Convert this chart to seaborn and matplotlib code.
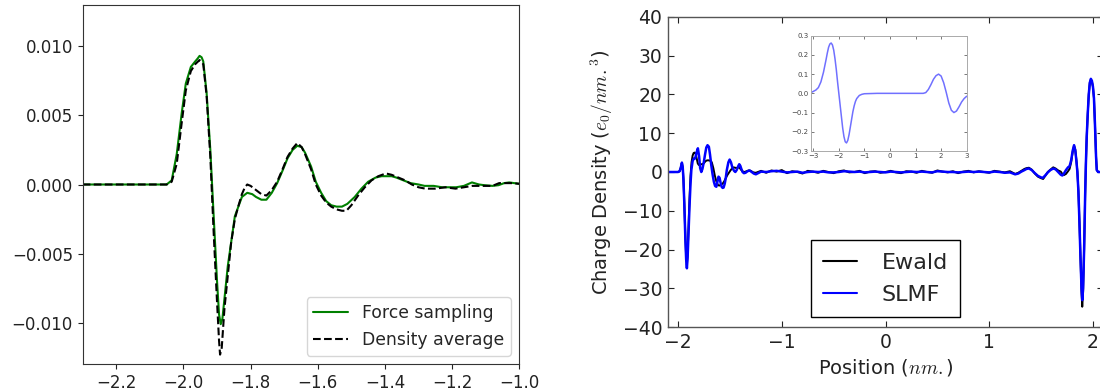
import numpy as np
import matplotlib
matplotlib.use("Agg")
import matplotlib.pyplot as plt
import seaborn as sns

# ---------------- Left panel data ----------------
fs_x = [-2.30, -2.20, -2.10, -2.05, -2.035, -2.02, -2.005, -1.993, -1.978, -1.965,
        -1.958, -1.952, -1.946, -1.941, -1.931, -1.92, -1.91, -1.90, -1.894, -1.889,
        -1.884, -1.868, -1.847, -1.826, -1.810, -1.795, -1.784, -1.768, -1.753, -1.737,
        -1.721, -1.705, -1.69, -1.675, -1.661, -1.648, -1.638, -1.62, -1.606, -1.59,
        -1.575, -1.56, -1.544, -1.528, -1.512, -1.49, -1.47, -1.45, -1.428, -1.41,
        -1.397, -1.38, -1.366, -1.345, -1.324, -1.30, -1.282, -1.255, -1.23, -1.21,
        -1.188, -1.165, -1.141, -1.12, -1.104, -1.08, -1.062, -1.045, -1.03, -1.015, -1.0]
fs_y = [0.0, 0.0, 0.0, 0.0, 0.0003, 0.0022, 0.0052, 0.0073, 0.0085, 0.0089,
        0.0091, 0.0093, 0.0092, 0.0089, 0.0066, 0.0025, -0.0023, -0.0070, -0.0094, -0.0101,
        -0.0097, -0.0059, -0.0023, -0.0009, -0.0006, -0.0007, -0.0009, -0.0011, -0.0011, -0.0006,
        0.0001, 0.0010, 0.0019, 0.0025, 0.0028, 0.0027, 0.0023, 0.0013, 0.0002, -0.0006,
        -0.0012, -0.0015, -0.0016, -0.0016, -0.0014, -0.0009, -0.0003, 0.0002, 0.0005, 0.0006,
        0.0006, 0.0006, 0.0005, 0.0003, 0.0001, 0.0000, -0.0001, -0.0001, -0.0002, -0.0002,
        -0.0002, -0.0001, 0.00015, 0.0000, -0.00005, -0.0001, -0.00005, 0.0001, 0.00015, 0.0001, 0.00005]

da_x = [-2.30, -2.20, -2.10, -2.05, -2.035, -2.02, -2.005, -1.993, -1.978, -1.965,
        -1.952, -1.941, -1.931, -1.92, -1.91, -1.90, -1.894, -1.891, -1.886, -1.878,
        -1.868, -1.858, -1.847, -1.837, -1.826, -1.817, -1.810, -1.80, -1.784, -1.768,
        -1.753, -1.737, -1.721, -1.705, -1.69, -1.675, -1.661, -1.648, -1.638, -1.62,
        -1.606, -1.59, -1.575, -1.56, -1.544, -1.528, -1.515, -1.50, -1.48, -1.46,
        -1.44, -1.42, -1.397, -1.38, -1.36, -1.34, -1.32, -1.30, -1.28, -1.25,
        -1.22, -1.19, -1.165, -1.14, -1.11, -1.08, -1.06, -1.04, -1.02, -1.0]
da_y = [0.0, 0.0, 0.0, 0.0, 0.0002, 0.0015, 0.0045, 0.0068, 0.0082, 0.0087,
        0.0090, 0.0087, 0.0064, 0.0020, -0.0035, -0.0085, -0.0113, -0.0123, -0.0118, -0.0090,
        -0.0066, -0.0042, -0.0025, -0.0016, -0.0007, -0.0002, 0.0000, -0.0001, -0.0004, -0.0007,
        -0.0008, -0.0004, 0.0002, 0.0011, 0.0020, 0.0026, 0.0030, 0.0027, 0.0022, 0.0011,
        0.0000, -0.0008, -0.0013, -0.0016, -0.0018, -0.0019, -0.0019, -0.0015, -0.0008, -0.0002,
        0.0003, 0.0006, 0.0008, 0.0007, 0.0005, 0.0003, 0.0000, -0.0002, -0.0003, -0.0003,
        -0.0002, -0.0003, -0.0002, -0.0001, -0.0001, -0.0001, 0.0001, 0.0001, 0.0001, 0.00005]

left_xticks = [-2.2, -2.0, -1.8, -1.6, -1.4, -1.2, -1.0]
left_yticks = [-0.010, -0.005, 0.000, 0.005, 0.010]

# ---------------- Right panel data ----------------
mid_x = [round(v, 2) for v in np.arange(-1.2, 1.2001, 0.05)]
ewald_mid = [0.3, -0.2, 0.4, 0.1, 0.5, -0.3, 0.2, 0.0, -0.4, 0.3,
             0.1, -0.2, 0.3, 0.0, -0.3, 0.2, 0.4, -0.1, 0.0, 0.3,
             -0.3, 0.1, 0.2, -0.2, 0.0, 0.3, -0.1, -0.3, 0.2, 0.1,
             -0.2, 0.3, 0.0, -0.2, 0.4, 0.1, -0.1, 0.2, -0.3, 0.1,
             0.3, -0.1, 0.2, 0.0, -0.2, 0.3, 0.1, -0.1, 0.2]
slmf_mid = [0.1, 0.0, 0.2, 0.3, 0.1, -0.1, 0.0, 0.1, -0.2, 0.0,
            0.1, 0.0, 0.1, -0.1, -0.1, 0.0, 0.2, 0.1, 0.0, 0.1,
            -0.1, 0.0, 0.1, 0.0, -0.1, 0.1, 0.0, -0.1, 0.0, 0.1,
            0.0, 0.1, 0.0, -0.1, 0.2, 0.1, 0.0, 0.0, -0.1, 0.0,
            0.1, 0.0, 0.1, 0.0, -0.1, 0.1, 0.0, -0.2, -0.1]

ewald_left_x = [-2.11, -2.0, -1.985, -1.975, -1.963, -1.955, -1.948, -1.94, -1.93, -1.922,
                -1.915, -1.908, -1.9, -1.89, -1.88, -1.87, -1.86, -1.85, -1.84, -1.831,
                -1.82, -1.81, -1.8, -1.79, -1.78, -1.765, -1.75, -1.735, -1.72, -1.705,
                -1.69, -1.675, -1.66, -1.645, -1.63, -1.615, -1.6, -1.585, -1.57, -1.555,
                -1.54, -1.525, -1.51, -1.495, -1.48, -1.465, -1.45, -1.435, -1.42, -1.405,
                -1.39, -1.375, -1.36, -1.34, -1.32, -1.3, -1.275, -1.25]
ewald_left_y = [0, 0, 0.2, 1.0, 2.4, 1.2, -2, -8, -16.5, -22,
                -24, -21, -15, -7, -1, 2.5, 4.2, 4.9, 5.0, 4.8,
                3.5, 2.2, 1.8, 1.9, 2.0, 2.0, 2.3, 2.8, 3.0, 3.0,
                2.9, 2.5, 1.0, -1.0, -2.5, -3.4, -3.5, -3.2, -3.0, -2.4,
                -1.6, -0.8, -0.2, 0.4, 0.9, 1.2, 1.1, 1.0, 1.2, 1.0,
                0.5, 0.1, 0.0, 0.2, 0.4, 0.3, -0.1, -0.2]
ewald_right_x = [1.25, 1.28, 1.31, 1.34, 1.36, 1.383, 1.41, 1.44, 1.47, 1.5,
                 1.52, 1.54, 1.565, 1.59, 1.617, 1.64, 1.665, 1.69, 1.705, 1.72,
                 1.74, 1.76, 1.775, 1.79, 1.805, 1.818, 1.83, 1.84, 1.85, 1.86,
                 1.87, 1.88, 1.89, 1.897, 1.905, 1.915, 1.925, 1.932, 1.94, 1.95,
                 1.96, 1.97, 1.98, 1.99, 2.0, 2.01, 2.02, 2.03, 2.037, 2.05, 2.11]
ewald_right_y = [-0.5, -0.2, 0.3, 0.8, 1.0, 1.1, 0.6, -0.4, -1.2, -1.6,
                 -1.8, -1.0, 0.0, 0.6, 1.2, 0.9, 0.4, 0.1, -0.5, -0.8,
                 -0.5, 0.2, 0.8, 2.5, 5.2, 6.8, 5.8, 3.2, 0.2, -5,
                 -13, -22, -31, -34.7, -31, -20, -6, 2, 9, 15,
                 20, 23, 23.7, 23.3, 22, 19, 12, 4, 0.5, 0, 0]

slmf_left_x = [-2.11, -2.0, -1.985, -1.975, -1.963, -1.955, -1.948, -1.94, -1.93, -1.922,
               -1.915, -1.908, -1.9, -1.89, -1.88, -1.872, -1.86, -1.848, -1.835, -1.822,
               -1.809, -1.797, -1.787, -1.776, -1.765, -1.752, -1.74, -1.728, -1.716, -1.703,
               -1.692, -1.68, -1.668, -1.655, -1.643, -1.631, -1.62, -1.61, -1.6, -1.59,
               -1.58, -1.57, -1.561, -1.55, -1.54, -1.53, -1.515, -1.503, -1.49, -1.475,
               -1.46, -1.448, -1.435, -1.42, -1.41, -1.4, -1.39, -1.378, -1.365, -1.35,
               -1.33, -1.31, -1.29, -1.27, -1.25]
slmf_left_y = [0, 0, 0.2, 1.0, 2.4, 1.2, -2, -8, -17, -22.5,
               -24.8, -22, -16, -9, -3, 0.5, 2.8, 3.5, 3.5, 5,
               6.1, 4, 1, 0, 0.8, 2.5, 4.5, 6.3, 6.9, 6.5,
               4.5, 1.8, -0.5, -2.5, -3.6, -3.8, -2.5, -1.2, -1.5, -2.8,
               -3.8, -4.1, -4.0, -3, -1.5, 0.5, 2.5, 3.2, 2.5, 1.0,
               0.3, 0.0, 0.5, 1.5, 2.0, 1.6, 0.8, 0.0, -0.3, -0.2,
               0.2, 0.4, 0.0, -0.4, -0.6]
slmf_right_x = [1.25, 1.28, 1.31, 1.34, 1.36, 1.383, 1.41, 1.44, 1.47, 1.5,
                1.517, 1.54, 1.565, 1.59, 1.617, 1.64, 1.665, 1.69, 1.705, 1.72,
                1.74, 1.76, 1.775, 1.79, 1.805, 1.818, 1.83, 1.84, 1.85, 1.86,
                1.87, 1.88, 1.89, 1.897, 1.905, 1.915, 1.925, 1.932, 1.94, 1.95,
                1.96, 1.97, 1.98, 1.99, 2.0, 2.01, 2.02, 2.03, 2.037, 2.05, 2.11]
slmf_right_y = [-0.6, -0.4, 0.1, 0.5, 0.8, 0.9, 0.5, -0.3, -1.0, -1.4,
                -1.5, -0.9, -0.1, 0.5, 0.9, 0.7, 0.0, -0.7, -0.9, -0.4,
                0.5, 1.2, 1.5, 3.0, 5.5, 6.9, 5.5, 3.0, 0.0, -5,
                -13, -22, -30, -33, -30, -20, -6, 2, 9, 15,
                20, 23, 24, 23.5, 22, 19, 12, 4, 0.5, 0, 0]

right_xticks = [-2, -1, 0, 1, 2]
right_yticks = [-40, -30, -20, -10, 0, 10, 20, 30, 40]

# ---------------- Inset data ----------------
inset_x = [-3.1, -3.0, -2.9, -2.8, -2.7, -2.6, -2.5, -2.45, -2.4, -2.35,
           -2.3, -2.25, -2.2, -2.15, -2.1, -2.05, -2.0, -1.95, -1.9, -1.85,
           -1.8, -1.75, -1.7, -1.65, -1.6, -1.55, -1.5, -1.45, -1.4, -1.35,
           -1.3, -1.2, -1.1, -1.0, -0.5, 0.5, 1.0, 1.3, 1.4, 1.5,
           1.6, 1.7, 1.8, 1.9, 2.0, 2.1, 2.2, 2.3, 2.4, 2.5,
           2.6, 2.7, 2.8, 2.9, 3.0]
inset_y = [0.003, 0.01, 0.017, 0.03, 0.06, 0.11, 0.175, 0.21, 0.24, 0.257,
           0.262, 0.252, 0.225, 0.18, 0.125, 0.06, 0.0, -0.06, -0.12, -0.18,
           -0.225, -0.252, -0.258, -0.245, -0.215, -0.175, -0.135, -0.095, -0.065, -0.042,
           -0.027, -0.011, -0.005, -0.002, 0.0, 0.0, 0.0, 0.0, 0.004, 0.02,
           0.045, 0.073, 0.092, 0.1, 0.09, 0.055, 0.005, -0.05, -0.088, -0.1,
           -0.092, -0.07, -0.045, -0.027, -0.015]
inset_xticks = [-3, -2, -1, 0, 1, 2, 3]
inset_yticks = [-0.3, -0.2, -0.1, 0.0, 0.1, 0.2, 0.3]

# ---------------- Figure ----------------
sns.set_style("ticks")
plt.rcParams['font.family'] = ['DejaVu Sans']

W, H = 1100, 391
fig = plt.figure(figsize=(W / 100, H / 100), dpi=100)

def box(l, t, r, b):
    return [l / W, (H - b) / H, (r - l) / W, (b - t) / H]

def minus(s):
    return s.replace("-", "\u2212")

# Left panel
ax1 = fig.add_axes(box(82.7, 4.7, 519.3, 364.3))
sns.lineplot(x=fs_x, y=fs_y, ax=ax1, color=(0, 0.5, 0), lw=1.5,
             label="Force sampling", sort=False, estimator=None)
sns.lineplot(x=da_x, y=da_y, ax=ax1, color="k", lw=1.5, linestyle="--",
             label="Density average", sort=False, estimator=None)
ax1.lines[1].set_dashes([3.7, 1.6])
ax1.set_xlim(-2.3, -1.0)
ax1.set_ylim(-0.013, 0.013)
ax1.set_xticks(left_xticks)
ax1.set_yticks(left_yticks)
ax1.set_xticklabels([minus(f"{v:.1f}") for v in left_xticks])
ax1.set_yticklabels([minus(f"{v:.3f}") for v in left_yticks])
ax1.tick_params(labelsize=12, direction="out", length=3.5, width=0.8, colors="#222222")
for s in ax1.spines.values():
    s.set_visible(True)
    s.set_linewidth(0.8)
    s.set_color("#333333")
leg1 = ax1.legend(loc="lower right", fontsize=12.4, frameon=True, fancybox=True,
                  framealpha=0.8, edgecolor="#cccccc", handlelength=2.0)
leg1.get_lines()[1].set_dashes([3.7, 1.6])

# Right panel
ax2 = fig.add_axes(box(667.7, 16.7, 1103.3, 327.3))
sns.lineplot(x=ewald_left_x + mid_x + ewald_right_x,
             y=ewald_left_y + ewald_mid + ewald_right_y,
             ax=ax2, color="k", lw=1.4, label="Ewald", sort=False, estimator=None)
sns.lineplot(x=slmf_left_x + mid_x + slmf_right_x,
             y=slmf_left_y + slmf_mid + slmf_right_y,
             ax=ax2, color=(0, 0, 1), lw=1.8, label="SLMF", sort=False, estimator=None)
ax2.set_xlim(-2.1, 2.1)
ax2.set_ylim(-40, 40)
ax2.set_xticks(right_xticks)
ax2.set_yticks(right_yticks)
ax2.set_xticklabels([minus(str(v)) for v in right_xticks])
ax2.set_yticklabels([minus(str(v)) for v in right_yticks])
ax2.tick_params(labelsize=13.5, direction="in", length=4, width=0.8,
                top=True, right=True, colors="#222222", pad=4)
for s in ax2.spines.values():
    s.set_visible(True)
    s.set_linewidth(1.0)
    s.set_color("#555555")
ax2.set_ylabel(r"Charge Density ($e_0/nm.^3$)", fontsize=14, math_fontfamily="cm",
               color="#222222")
ax2.set_xlabel(r"Position ($nm.$)", fontsize=14, math_fontfamily="cm",
               color="#222222")
ax2.yaxis.set_label_coords(-0.121, 0.5)
ax2.xaxis.set_label_coords(0.5, -0.096)
leg2 = ax2.legend(loc="lower center", bbox_to_anchor=(0.5, 0.033), borderaxespad=0,
                  fontsize=16, frameon=True, fancybox=False, framealpha=1,
                  edgecolor="k", handlelength=1.55, handletextpad=1.1,
                  labelspacing=0.55, borderpad=0.55)
leg2.get_frame().set_linewidth(1.0)
for ln in leg2.get_lines():
    ln.set_linewidth(1.5)

# Inset
ax3 = fig.add_axes(box(810.7, 35.7, 966.7, 151))
sns.lineplot(x=inset_x, y=inset_y, ax=ax3, color=(0.25, 0.25, 1.0), alpha=0.75,
             lw=1.1, sort=False, estimator=None)
ax3.set_xlim(-3.1, 3.0)
ax3.set_ylim(-0.3, 0.3)
ax3.set_xticks(inset_xticks)
ax3.set_yticks(inset_yticks)
ax3.set_xticklabels([minus(str(v)) for v in inset_xticks])
ax3.set_yticklabels([minus(f"{v:.1f}") for v in inset_yticks])
ax3.tick_params(labelsize=5, direction="in", length=2, width=0.5,
                top=True, right=True, colors="#444444", pad=1.5)
for s in ax3.spines.values():
    s.set_visible(True)
    s.set_linewidth(0.7)
    s.set_color("#aaaaaa")

fig.savefig("out.png", dpi=100)
